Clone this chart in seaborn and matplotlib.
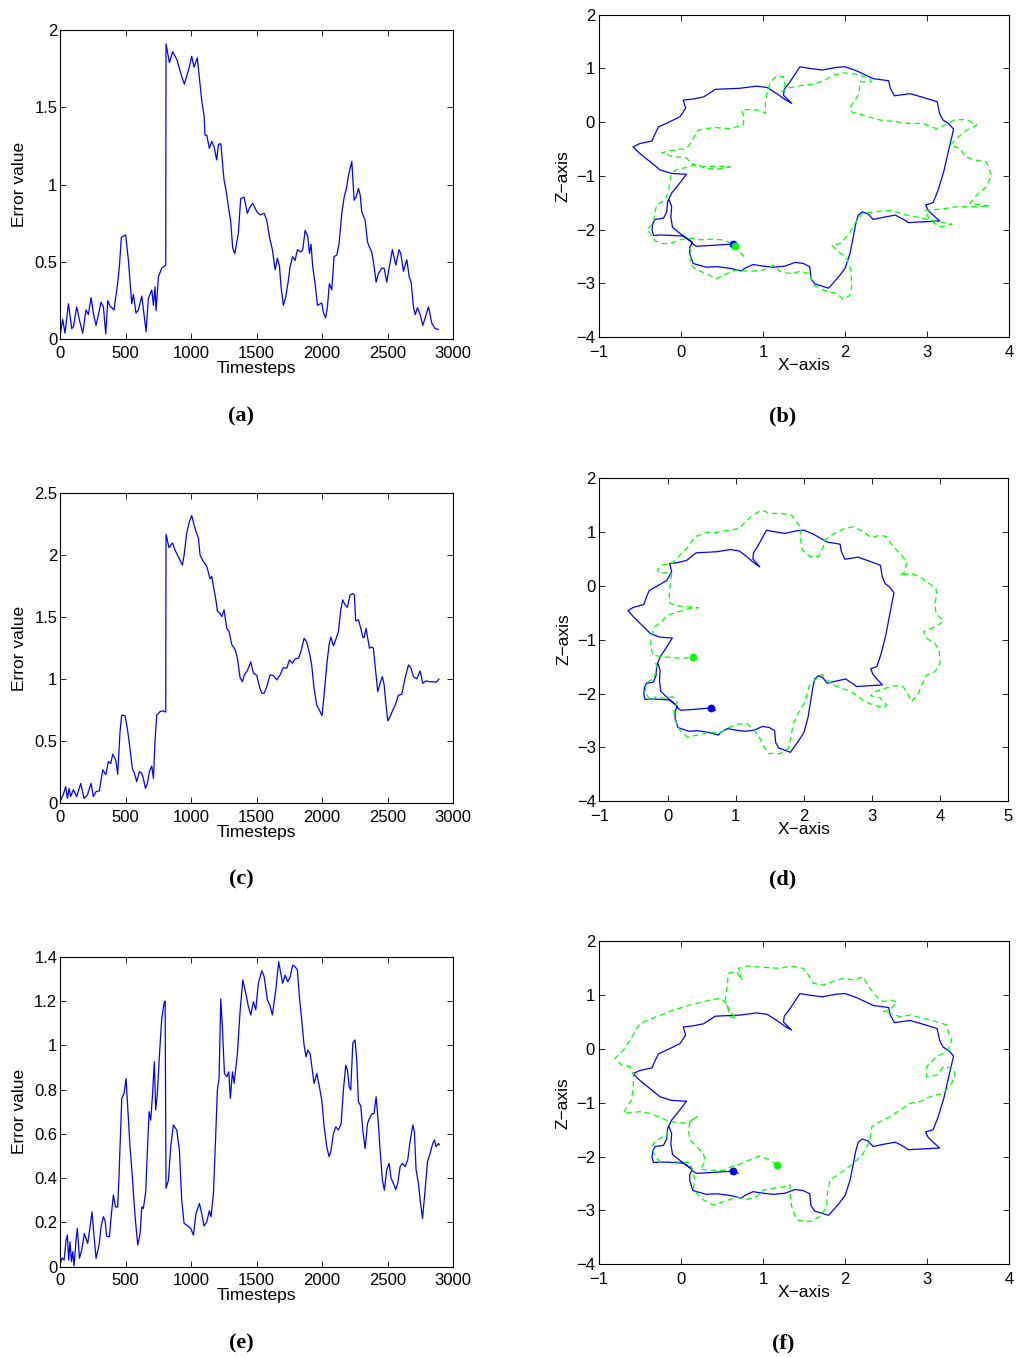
import matplotlib
matplotlib.use("Agg")
import matplotlib.pyplot as plt
import seaborn as sns
from matplotlib.ticker import FuncFormatter, MultipleLocator

# ---------------- data: error curves ----------------
t_a = [0,20,38,64,89,102,127,148,173,198,216,237,254,275,313,331,349,364,382,412,
       438,453,468,501,522,547,560,580,598,624,657,674,700,713,725,733,751,776,807,809,
       835,860,891,929,949,987,1005,1023,1048,1069,1082,1099,1107,1120,1140,1158,1176,1196,1209,1227,
       1252,1267,1285,1303,1318,1334,1361,1379,1405,1430,1446,1471,1502,1527,1558,1578,1598,1621,1642,1659,
       1675,1687,1705,1723,1741,1756,1776,1794,1812,1838,1853,1871,1891,1904,1916,1929,1947,1965,1998,2011,
       2028,2041,2056,2074,2092,2113,2130,2151,2169,2186,2202,2227,2245,2260,2278,2291,2303,2329,2347,2360,
       2380,2397,2413,2430,2456,2474,2494,2512,2537,2563,2588,2601,2621,2647,2665,2680,2698,2711,2729,2749,
       2769,2813,2838,2863,2889]
err_a = [0.02,0.13,0.04,0.23,0.07,0.08,0.21,0.125,0.04,0.19,0.16,0.27,0.17,0.09,0.24,0.21,0.035,0.25,0.215,0.19,
         0.35,0.47,0.66,0.675,0.51,0.23,0.29,0.17,0.19,0.28,0.05,0.265,0.32,0.22,0.34,0.185,0.405,0.46,0.48,1.91,
         1.79,1.86,1.81,1.70,1.65,1.76,1.83,1.76,1.82,1.645,1.54,1.45,1.32,1.32,1.235,1.28,1.245,1.16,1.26,1.265,
         1.03,0.965,0.86,0.76,0.59,0.555,0.685,0.91,0.92,0.815,0.85,0.88,0.825,0.805,0.815,0.77,0.665,0.58,0.45,0.525,
         0.475,0.34,0.22,0.275,0.37,0.47,0.535,0.51,0.58,0.565,0.58,0.705,0.665,0.555,0.615,0.47,0.36,0.22,0.235,0.17,
         0.14,0.21,0.36,0.32,0.535,0.545,0.62,0.815,0.92,0.975,1.06,1.15,0.90,0.92,0.975,0.935,0.825,0.77,0.63,0.60,
         0.565,0.475,0.37,0.425,0.46,0.46,0.37,0.46,0.58,0.48,0.58,0.555,0.44,0.515,0.405,0.37,0.21,0.16,0.205,0.16,
         0.09,0.21,0.105,0.07,0.065]

t_c = [0,25,43,56,69,81,102,127,158,183,209,237,254,275,300,326,349,369,387,402,
       425,440,458,471,496,517,534,552,568,585,606,624,636,652,667,682,700,713,725,738,
       764,789,807,809,832,858,878,898,916,934,947,967,987,1005,1023,1038,1056,1069,1094,1120,
       1145,1158,1171,1191,1201,1222,1234,1252,1273,1290,1311,1336,1354,1374,1392,1407,1430,1456,1476,1502,
       1522,1540,1558,1578,1603,1629,1654,1680,1705,1731,1751,1774,1794,1820,1838,1863,1883,1904,1921,1939,
       1960,1980,2000,2018,2036,2054,2067,2087,2105,2125,2143,2158,2176,2194,2214,2235,2247,2257,2278,2296,
       2311,2321,2336,2349,2362,2380,2392,2410,2425,2443,2461,2474,2489,2502,2520,2540,2558,2583,2609,2634,
       2660,2677,2698,2723,2749,2769,2795,2820,2845,2871,2894]
err_c = [0.01,0.07,0.134,0.04,0.12,0.054,0.11,0.054,0.16,0.04,0.067,0.16,0.054,0.094,0.10,0.27,0.23,0.336,0.32,0.395,
         0.35,0.235,0.58,0.71,0.707,0.58,0.44,0.28,0.24,0.175,0.255,0.24,0.20,0.12,0.16,0.255,0.30,0.20,0.50,0.71,
         0.74,0.745,0.735,2.17,2.06,2.10,2.04,2.0,1.96,1.92,2.0,2.18,2.27,2.32,2.245,2.19,2.14,2.0,1.95,1.91,
         1.81,1.83,1.75,1.63,1.55,1.53,1.505,1.56,1.41,1.385,1.28,1.24,1.17,1.015,0.98,1.035,1.07,1.14,1.05,1.03,
         0.94,0.887,0.887,0.94,1.035,1.03,0.995,1.035,1.094,1.09,1.156,1.13,1.164,1.17,1.22,1.33,1.30,1.21,1.115,0.927,
         0.79,0.75,0.707,0.90,1.115,1.28,1.34,1.27,1.32,1.385,1.56,1.64,1.60,1.58,1.68,1.69,1.68,1.47,1.48,1.41,
         1.34,1.335,1.41,1.33,1.25,1.26,1.25,1.06,0.90,0.967,1.02,0.954,0.79,0.664,0.70,0.75,0.79,0.87,0.88,1.01,
         1.115,1.094,1.02,1.003,1.067,0.967,0.987,0.98,0.98,0.976,1.003]

t_e = [0,15,31,46,56,66,76,87,97,107,122,132,148,165,186,211,229,244,260,275,
       298,313,331,344,356,377,390,407,423,440,450,461,471,489,504,519,534,552,573,593,
       611,624,636,654,667,680,692,705,720,730,743,758,776,794,802,809,827,845,865,891,
       911,929,947,967,998,1018,1038,1064,1087,1099,1120,1140,1153,1171,1188,1201,1214,1227,1239,1255,
       1273,1288,1300,1316,1329,1354,1374,1395,1418,1438,1456,1476,1494,1514,1540,1558,1583,1603,1621,1647,
       1669,1685,1700,1718,1738,1756,1776,1794,1812,1827,1845,1863,1878,1891,1909,1922,1939,1960,1980,1998,
       2016,2036,2054,2067,2087,2105,2125,2146,2163,2181,2194,2207,2219,2235,2252,2265,2278,2296,2311,2329,
       2347,2362,2380,2397,2413,2430,2443,2461,2476,2494,2512,2527,2545,2563,2578,2596,2614,2634,2654,2672,
       2693,2705,2718,2736,2749,2767,2787,2805,2825,2845,2858,2871,2889,2896]
err_e = [0.008,0.04,0.03,0.12,0.143,0.03,0.113,0.023,0.068,0.003,0.12,0.173,0.038,0.075,0.15,0.105,0.18,0.248,0.135,0.038,
         0.098,0.18,0.226,0.208,0.138,0.135,0.226,0.324,0.27,0.27,0.406,0.587,0.76,0.783,0.85,0.70,0.542,0.406,0.226,0.098,
         0.15,0.27,0.263,0.339,0.527,0.70,0.662,0.768,0.926,0.708,0.783,0.948,1.12,1.19,1.20,0.354,0.39,0.542,0.64,0.617,
         0.527,0.30,0.196,0.188,0.173,0.143,0.24,0.286,0.226,0.184,0.203,0.253,0.226,0.331,0.587,0.798,0.85,1.21,1.084,0.873,
         0.858,0.88,0.76,0.88,0.828,0.963,1.15,1.295,1.234,1.174,1.137,1.197,1.16,1.28,1.337,1.31,1.204,1.18,1.137,1.25,
         1.377,1.325,1.28,1.317,1.287,1.307,1.362,1.355,1.34,1.22,1.114,1.0,0.948,0.978,0.963,0.903,0.828,0.873,0.813,0.753,
         0.632,0.542,0.497,0.52,0.602,0.632,0.617,0.647,0.798,0.91,0.888,0.813,0.798,1.009,1.024,0.933,0.745,0.726,0.617,0.534,
         0.647,0.67,0.69,0.692,0.768,0.647,0.527,0.391,0.346,0.437,0.467,0.40,0.376,0.349,0.376,0.452,0.467,0.452,0.482,0.565,
         0.64,0.61,0.437,0.376,0.30,0.218,0.346,0.474,0.512,0.557,0.572,0.542,0.557,0.55]

err_ylim = [2.0, 2.5, 1.4]
err_ystep = [0.5, 0.5, 0.2]

# ---------------- data: trajectories (X, Z) ----------------
blue_xz = [(0.70,-2.31),(0.64,-2.27),(0.52,-2.28),(0.32,-2.30),(0.19,-2.31),(0.15,-2.27),(0.11,-2.20),(0.03,-2.12),
           (-0.09,-2.11),(-0.25,-2.10),(-0.33,-2.11),(-0.35,-2.01),(-0.34,-1.89),(-0.31,-1.81),(-0.21,-1.79),(-0.17,-1.67),
           (-0.16,-1.48),(-0.11,-1.32),(-0.03,-1.17),(0.07,-0.97),(-0.11,-0.955),(-0.25,-0.89),(-0.37,-0.74),(-0.50,-0.58),
           (-0.58,-0.46),(-0.50,-0.40),(-0.35,-0.35),(-0.31,-0.21),(-0.27,-0.09),(-0.13,0.01),(-0.01,0.10),(0.06,0.26),
           (0.03,0.41),(0.15,0.43),(0.28,0.47),(0.42,0.61),(0.72,0.63),(0.92,0.67),(1.05,0.645),(1.17,0.53),(1.27,0.42),
           (1.35,0.35),(1.25,0.50),(1.26,0.61),(1.33,0.75),(1.39,0.89),(1.45,1.03),(1.57,1.00),(1.72,0.97),(1.90,1.02),
           (2.00,1.03),(2.14,0.955),(2.34,0.81),(2.53,0.77),(2.55,0.63),(2.60,0.49),(2.79,0.53),(2.95,0.46),(3.12,0.38),
           (3.15,0.16),(3.19,0.04),(3.26,-0.03),(3.32,-0.13),(3.26,-0.52),(3.20,-0.92),(3.13,-1.27),(3.07,-1.50),(2.98,-1.54),
           (3.01,-1.64),(3.07,-1.73),(3.15,-1.84),(2.77,-1.87),(2.71,-1.81),(2.61,-1.73),(2.47,-1.77),(2.34,-1.81),(2.28,-1.71),
           (2.21,-1.67),(2.16,-1.73),(2.13,-1.89),(2.10,-2.13),(2.06,-2.44),(2.00,-2.72),(1.92,-2.88),(1.80,-3.09),(1.63,-3.01),
           (1.585,-2.91),(1.57,-2.69),(1.49,-2.63),(1.39,-2.61),(1.27,-2.68),(1.13,-2.70),(1.005,-2.68),(0.88,-2.65),(0.78,-2.72),
           (0.74,-2.77),(0.60,-2.72),(0.44,-2.69),(0.31,-2.70),(0.15,-2.63),(0.11,-2.45),(0.11,-2.33),(0.14,-2.24),(-0.01,-2.07),
           (-0.10,-1.96),(-0.12,-1.76),(-0.11,-1.575),(-0.14,-1.45)]
blue_dot = (0.64, -2.27)

green_b_xz = [(0.77,-2.505),(0.70,-2.37),(0.65,-2.29),(0.52,-2.19),(0.36,-2.18),(0.24,-2.19),(0.11,-2.16),(-0.01,-2.19),
              (-0.13,-2.26),(-0.23,-2.26),(-0.31,-2.21),(-0.41,-1.99),(-0.33,-1.885),(-0.32,-1.70),(-0.29,-1.54),(-0.19,-1.45),
              (-0.15,-1.30),(-0.13,-1.08),(-0.11,-0.955),(-0.05,-0.88),(0.11,-0.83),(0.19,-0.77),(0.30,-0.86),(0.44,-0.88),
              (0.60,-0.83),(0.44,-0.82),(0.19,-0.83),(0.11,-0.74),(0.07,-0.66),(-0.09,-0.645),(-0.23,-0.57),(-0.13,-0.53),
              (0.07,-0.49),(0.13,-0.37),(0.21,-0.15),(0.40,-0.10),(0.60,-0.12),(0.76,-0.055),(0.77,0.10),(0.74,0.22),
              (0.84,0.236),(0.965,0.22),(1.03,0.16),(1.03,0.35),(1.05,0.53),(1.09,0.75),(1.17,0.86),(1.25,0.844),(1.27,0.69),
              (1.23,0.565),(1.29,0.627),(1.41,0.67),(1.61,0.707),(1.74,0.769),(1.86,0.875),(1.98,0.918),(2.14,0.893),
              (2.30,0.813),(2.32,0.75),(2.18,0.75),(2.17,0.53),(2.12,0.41),(2.06,0.286),(2.08,0.19),(2.22,0.13),(2.43,0.037),
              (2.63,0.006),(2.79,-0.025),(2.95,-0.025),(3.11,-0.12),(3.22,-0.056),(3.32,0.037),(3.48,0.05),(3.60,-0.056),
              (3.48,-0.149),(3.36,-0.30),(3.28,-0.43),(3.40,-0.49),(3.46,-0.645),(3.60,-0.71),(3.72,-0.74),(3.78,-0.99),
              (3.72,-1.20),(3.60,-1.36),(3.52,-1.51),(3.64,-1.54),(3.76,-1.56),(3.56,-1.575),(3.36,-1.575),(3.155,-1.62),
              (2.97,-1.64),(3.03,-1.82),(3.155,-1.95),(3.30,-1.90),(3.11,-1.85),(2.95,-1.79),(2.75,-1.73),(2.55,-1.64),
              (2.34,-1.67),(2.20,-1.71),(2.12,-1.885),(2.04,-2.10),(1.94,-2.26),(1.84,-2.29),(1.92,-2.41),(2.02,-2.54),
              (2.07,-2.75),(2.08,-3.06),(2.06,-3.22),(1.98,-3.30),(1.90,-3.19),(1.74,-3.13),(1.61,-3.03),(1.57,-2.82),
              (1.45,-2.78),(1.33,-2.82),(1.21,-2.78),(1.13,-2.66),(1.01,-2.75),(0.84,-2.78),(0.68,-2.75),(0.56,-2.82),
              (0.44,-2.91),(0.30,-2.82),(0.17,-2.72),(0.11,-2.62),(0.13,-2.47),(0.11,-2.35)]
green_b_dot = (0.66, -2.30)

green_d_xz = [(0.435,-1.379),(0.367,-1.317),(0.23,-1.348),(0.083,-1.335),(-0.088,-1.317),(-0.22,-1.286),(-0.249,-1.10),
              (-0.24,-0.915),(-0.186,-0.76),(-0.088,-0.668),(-0.015,-0.556),(0.132,-0.495),(0.328,-0.42),(0.455,-0.408),
              (0.279,-0.389),(0.132,-0.371),(0.034,-0.328),(0.024,-0.173),(0.034,-0.019),(0.059,0.198),(-0.005,0.247),
              (-0.112,0.223),(-0.152,0.291),(-0.088,0.383),(0.01,0.396),(0.083,0.433),(0.181,0.569),(0.303,0.723),
              (0.401,0.909),(0.572,0.989),(0.719,0.989),(0.914,1.032),(1.061,1.063),(1.134,1.187),(1.257,1.311),
              (1.379,1.403),(1.501,1.341),(1.648,1.341),(1.819,1.311),(1.893,1.187),(1.966,1.063),(1.941,0.909),
              (1.98,0.661),(2.088,0.538),(2.21,0.538),(2.284,0.723),(2.308,0.847),(2.406,0.94),(2.577,1.051),(2.724,1.094),
              (2.87,1.001),(2.993,0.89),(3.115,0.94),(3.213,0.909),(3.311,0.723),(3.433,0.569),(3.506,0.433),(3.482,0.26),
              (3.408,0.185),(3.555,0.229),(3.702,0.167),(3.8,0.074),(3.936,-0.049),(3.946,-0.173),(3.922,-0.328),
              (3.936,-0.513),(4.044,-0.655),(3.971,-0.729),(3.873,-0.791),(3.751,-0.853),(3.8,-0.977),(3.922,-1.069),
              (3.985,-1.224),(3.995,-1.44),(3.922,-1.595),(3.8,-1.657),(3.726,-1.842),(3.677,-1.997),(3.579,-2.151),
              (3.531,-2.028),(3.457,-1.873),(3.335,-1.855),(3.188,-1.904),(3.042,-1.966),(2.978,-2.04),(3.115,-2.077),
              (3.213,-2.213),(3.164,-2.263),(3.017,-2.213),(2.88,-2.139),(2.763,-2.028),(2.675,-1.953),(2.553,-1.904),
              (2.43,-1.842),(2.333,-1.749),(2.264,-1.644),(2.161,-1.749),(2.078,-1.855),(2.015,-2.151),(1.917,-2.368),
              (1.844,-2.553),(1.804,-2.831),(1.77,-3.017),(1.648,-3.116),(1.477,-3.11),(1.403,-2.967),(1.355,-2.831),
              (1.257,-2.658),(1.159,-2.553),(1.012,-2.572),(0.866,-2.646),(0.758,-2.739),(0.621,-2.72),(0.45,-2.769),
              (0.289,-2.807),(0.181,-2.677),(0.108,-2.491),(0.093,-2.275),(0.142,-2.151),(0.073,-2.059),(-0.039,-2.09),
              (-0.171,-2.059),(-0.259,-2.139),(-0.328,-1.953),(-0.308,-1.793),(-0.21,-1.731),(-0.152,-1.533),(-0.186,-1.379)]
green_d_dot = (0.367, -1.317)

green_f_xz = [(1.168,-2.155),(1.087,-2.062),(0.965,-1.988),(0.884,-2.031),(0.742,-2.124),(0.60,-2.198),(0.519,-2.26),
              (0.357,-2.248),(0.235,-2.235),(0.296,-2.093),(0.276,-1.938),(0.195,-1.814),(0.114,-1.69),(0.093,-1.505),
              (0.114,-1.35),(0.203,-1.257),(0.073,-1.381),(-0.13,-1.35),(-0.373,-1.195),(-0.495,-1.164),(-0.697,-1.195),
              (-0.657,-1.071),(-0.596,-0.947),(-0.576,-0.638),(-0.576,-0.452),(-0.616,-0.328),(-0.718,-0.297),(-0.799,-0.173),
              (-0.697,-0.019),(-0.616,0.167),(-0.495,0.477),(-0.292,0.601),(-0.089,0.724),(0.114,0.817),(0.357,0.91),
              (0.478,0.941),(0.56,0.848),(0.60,0.601),(0.681,0.57),(0.60,0.694),(0.539,0.879),(0.56,1.096),(0.58,1.406),
              (0.681,1.437),(0.742,1.282),(0.702,1.499),(0.803,1.542),(1.006,1.517),(1.208,1.499),(1.33,1.542),(1.492,1.499),
              (1.553,1.375),(1.614,1.22),(1.736,1.189),(1.898,1.282),(1.979,1.313),(2.1,1.282),(2.222,1.344),(2.263,1.22),
              (2.303,1.127),(2.384,0.972),(2.465,0.879),(2.547,0.91),(2.628,0.879),(2.547,0.724),(2.465,0.694),(2.547,0.663),
              (2.668,0.601),(2.79,0.632),(2.952,0.57),(3.114,0.508),(3.236,0.446),(3.256,0.322),(3.297,0.167),(3.256,-0.019),
              (3.195,-0.08),(3.114,-0.142),(2.993,-0.328),(2.993,-0.514),(3.114,-0.483),(3.195,-0.328),(3.317,-0.359),
              (3.337,-0.483),(3.297,-0.638),(3.195,-0.824),(3.033,-0.885),(2.911,-0.978),(2.79,-1.009),(2.668,-1.133),
              (2.547,-1.257),(2.425,-1.35),(2.324,-1.443),(2.303,-1.69),(2.222,-1.938),(2.1,-2.124),(1.938,-2.31),
              (1.817,-2.433),(1.784,-2.681),(1.776,-2.929),(1.695,-3.115),(1.573,-3.207),(1.411,-3.176),(1.35,-2.929),
              (1.33,-2.681),(1.33,-2.526),(1.249,-2.557),(1.127,-2.588),(1.006,-2.619),(0.925,-2.743),(0.803,-2.793),
              (0.681,-2.756),(0.519,-2.836),(0.397,-2.898),(0.276,-2.805),(0.195,-2.681),(0.154,-2.588),(0.174,-2.434),
              (0.154,-2.31),(0.114,-2.112),(-0.089,-2.093),(-0.251,-2.093),(-0.312,-2.0),(-0.353,-1.814),(-0.312,-1.721),
              (-0.231,-1.641),(-0.17,-1.628),(-0.162,-1.505)]
green_f_dot = (1.168, -2.155)

traj_xlim = [(-1, 4), (-1, 5), (-1, 4)]
panel_labels = ["(a)", "(b)", "(c)", "(d)", "(e)", "(f)"]

# ---------------- style ----------------
sns.set_theme(style="ticks")
plt.rcParams.update({
    "font.family": ["Liberation Sans", "DejaVu Sans"],
    "xtick.direction": "in", "ytick.direction": "in",
    "xtick.top": True, "ytick.right": True,
    "xtick.bottom": True, "ytick.left": True,
    "xtick.major.size": 4, "ytick.major.size": 4,
    "xtick.major.width": 0.6, "ytick.major.width": 0.6,
    "xtick.major.pad": 4.5, "ytick.major.pad": 2.0,
    "axes.edgecolor": "black", "axes.linewidth": 0.8,
    "xtick.color": "black", "ytick.color": "black",
    "xtick.labelsize": 12, "ytick.labelsize": 12,
    "axes.labelsize": 12.5, "axes.labelcolor": "black", "text.color": "black",
})

BLUE = "#0000ff"
GREEN = "#00ff00"

def fmt(v, pos):
    s = f"{v:g}"
    return s.replace("-", "\u2212")

fig = plt.figure(figsize=(10.16, 13.58), dpi=100)

left_pos = [[0.0591, 0.7501, 0.3868, 0.2278],
            [0.0591, 0.4085, 0.3868, 0.2283],
            [0.0591, 0.0672, 0.3868, 0.2283]]
right_pos = [[0.5891, 0.7518, 0.4045, 0.2374],
             [0.5900, 0.4099, 0.4026, 0.2382],
             [0.5891, 0.0690, 0.4045, 0.2378]]

err_t = [t_a, t_c, t_e]
err_v = [err_a, err_c, err_e]
greens = [green_b_xz, green_d_xz, green_f_xz]
green_dots = [green_b_dot, green_d_dot, green_f_dot]

bx = [p[0] for p in blue_xz]
bz = [p[1] for p in blue_xz]

for i in range(3):
    # error plot
    ax = fig.add_axes(left_pos[i])
    sns.lineplot(x=err_t[i], y=err_v[i], ax=ax, color=BLUE, linewidth=0.9,
                 sort=False, estimator=None)
    ax.set_xlim(0, 3000)
    ax.set_ylim(0, err_ylim[i])
    ax.xaxis.set_major_locator(MultipleLocator(500))
    ax.yaxis.set_major_locator(MultipleLocator(err_ystep[i]))
    ax.xaxis.set_major_formatter(FuncFormatter(fmt))
    ax.yaxis.set_major_formatter(FuncFormatter(fmt))
    ax.set_xlabel("Timesteps", labelpad=0)
    ax.set_ylabel("Error value", labelpad=5)
    for s in ax.spines.values():
        s.set_visible(True)

    # trajectory plot
    ax2 = fig.add_axes(right_pos[i])
    gx = [p[0] for p in greens[i]]
    gz = [p[1] for p in greens[i]]
    sns.lineplot(x=bx, y=bz, ax=ax2, color=BLUE, linewidth=0.9, sort=False, estimator=None)
    sns.lineplot(x=gx, y=gz, ax=ax2, color=GREEN, linewidth=0.9, sort=False, estimator=None,
                 linestyle=(0, (4.5, 3)))
    sns.scatterplot(x=[blue_dot[0]], y=[blue_dot[1]], ax=ax2, color=BLUE, s=26,
                    edgecolor=BLUE, linewidth=0.5, zorder=5)
    sns.scatterplot(x=[green_dots[i][0]], y=[green_dots[i][1]], ax=ax2, color=GREEN, s=26,
                    edgecolor=GREEN, linewidth=0.5, zorder=6)
    ax2.set_xlim(*traj_xlim[i])
    ax2.set_ylim(-4, 2)
    ax2.xaxis.set_major_locator(MultipleLocator(1))
    ax2.yaxis.set_major_locator(MultipleLocator(1))
    ax2.xaxis.set_major_formatter(FuncFormatter(fmt))
    ax2.yaxis.set_major_formatter(FuncFormatter(fmt))
    ax2.tick_params(axis="x", pad=5.5)
    ax2.tick_params(axis="y", pad=2.5)
    ax2.set_xlabel("X\u2212axis", labelpad=-1.5)
    ax2.set_ylabel("Z\u2212axis", labelpad=4)
    for s in ax2.spines.values():
        s.set_visible(True)

label_y = [1 - 416 / 1358, 1 - 879 / 1358, 1 - 1343 / 1358]
for i in range(3):
    fig.text(241 / 1016, label_y[i], panel_labels[2 * i], ha="center", va="center",
             fontsize=16, fontweight="bold", family=["Liberation Serif", "DejaVu Serif"])
    fig.text(783 / 1016, label_y[i], panel_labels[2 * i + 1], ha="center", va="center",
             fontsize=16, fontweight="bold", family=["Liberation Serif", "DejaVu Serif"])

fig.savefig("out.png", dpi=100)
